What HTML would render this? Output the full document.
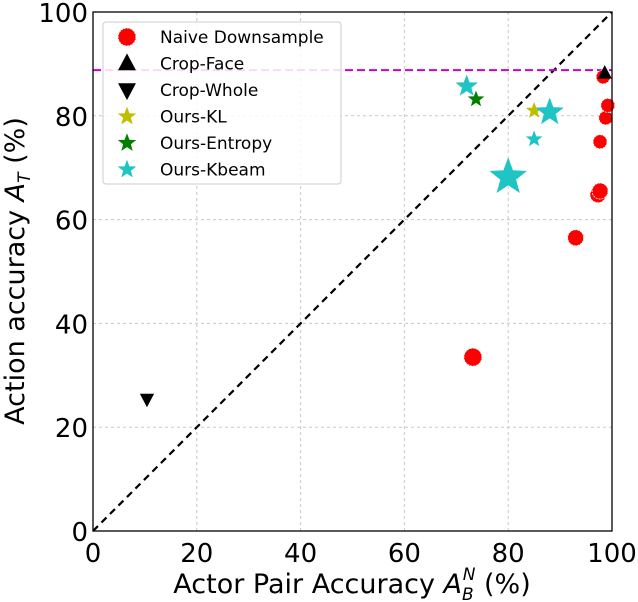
<!DOCTYPE html>
<html><head><meta charset="utf-8"><style>
body{margin:0;background:#fff}
svg{display:block;font-family:"DejaVu Sans","Liberation Sans",sans-serif}
</style></head><body>
<svg id="chart" width="638" height="602" viewBox="0 0 638 602"></svg>
<script>
const xTicks=[0,20,40,60,80,100];
const yTicks=[0,20,40,60,80,100];
const naiveX=[73.2,93,97.3,97.7,97.7,98.8,99.2,98.3];
const naiveY=[33.5,56.5,64.8,65.5,75,79.6,82,87.5];
const naiveR=[9,8,8,8,7,7,7,7];
const cropFaceX=[98.6], cropFaceY=[88.2];
const cropWholeX=[10.4], cropWholeY=[25.4];
const klX=[85], klY=[81], klS=[7];
const entX=[73.8], entY=[83.2], entS=[7];
const kbX=[72,88,85,80], kbY=[85.7,80.7,75.5,68.2], kbS=[10,13,7,18];
const refLine=88.8;
const L=93,R=612,T=12,B=531;
const sx=v=>L+(R-L)*v/100, sy=v=>B-(B-T)*v/100;
const svg=document.getElementById('chart');
const NS='http://www.w3.org/2000/svg';
function mk(tag,attrs,parent){const e=document.createElementNS(NS,tag);for(const k in attrs)e.setAttribute(k,attrs[k]);(parent||svg).appendChild(e);return e;}
xTicks.forEach(t=>{if(t>0&&t<100){const g=mk('line',{x1:sx(t),x2:sx(t),y1:T,y2:B,stroke:'#c8c8c8','stroke-dasharray':'3,3','stroke-width':1});

}});
yTicks.forEach(t=>{if(t>0&&t<100){const g=mk('line',{x1:L,x2:R,y1:sy(t),y2:sy(t),stroke:'#c8c8c8','stroke-dasharray':'3,3','stroke-width':1});

}});
const d=mk('line',{x1:sx(0),y1:sy(0),x2:sx(100),y2:sy(100),stroke:'#000','stroke-width':2.2,'stroke-dasharray':'7,5'});


const rl=mk('line',{x1:L,x2:R,y1:sy(refLine),y2:sy(refLine),stroke:'#cc00cc','stroke-width':2,'stroke-dasharray':'8,4'});


function star(cx,cy,r,fill,stroke){let p=[];for(let i=0;i<10;i++){const a=-Math.PI/2+i*Math.PI/5,rr=i%2?r*0.42:r;p.push((cx+rr*Math.cos(a)).toFixed(1)+','+(cy+rr*Math.sin(a)).toFixed(1));}
return mk('polygon',{points:p.join(' '),fill:fill,stroke:stroke,'stroke-width':1.2});}
function tri(cx,cy,r,up){const s=up?1:-1;return mk('polygon',{points:`${cx},${cy-s*r} ${cx-r*0.9},${cy+s*r*0.7} ${cx+r*0.9},${cy+s*r*0.7}`,fill:'#000',stroke:'#000'});}
naiveX.forEach((v,i)=>{const c=mk('circle',{cx:sx(v),cy:sy(naiveY[i]),r:naiveR[i],fill:'#ff0000',stroke:'#fff','stroke-width':0.8,'stroke-dasharray':'2,1'});

});
cropFaceX.forEach((v,i)=>{const e=tri(sx(v),sy(cropFaceY[i]),7,true);

});
cropWholeX.forEach((v,i)=>{const e=tri(sx(v),sy(cropWholeY[i]),7,false);

});
klX.forEach((v,i)=>{const e=star(sx(v),sy(klY[i]),klS[i],'#bfbf00','#bfbf00');

});
entX.forEach((v,i)=>{const e=star(sx(v),sy(entY[i]),entS[i],'#008000','#008000');

});
kbX.forEach((v,i)=>{const e=star(sx(v),sy(kbY[i]),kbS[i],'#1fc4c4','#1fc4c4');

});
const fr=mk('rect',{x:L,y:T,width:R-L,height:B-T,fill:'none',stroke:'#000','stroke-width':1.3});


xTicks.forEach(t=>{const e=mk('text',{x:sx(t),y:B+31,'font-size':26,'text-anchor':'middle'});e.textContent=t;

});
yTicks.forEach(t=>{const e=mk('text',{x:L-5,y:sy(t)+10,'font-size':26,'text-anchor':'end'});e.textContent=t;

});
const lg=mk('g',{});


mk('rect',{x:103,y:22,width:238,height:162,rx:3,fill:'#fff','fill-opacity':0.85,stroke:'#ccc'},lg);
const names=['Naive Downsample','Crop-Face','Crop-Whole','Ours-KL','Ours-Entropy','Ours-Kbeam'];
names.forEach((n,i)=>{const y=37+i*26.5;const t=mk('text',{x:160,y:y+6,'font-size':17},lg);t.textContent=n;

});
mk('circle',{cx:127,cy:37,r:9,fill:'#f00',stroke:'#fff','stroke-dasharray':'2,1'},lg);
lg.appendChild(tri(127,63.5,9,true));lg.appendChild(tri(127,90,9,false));
lg.appendChild(star(127,116.5,8,'#bfbf00','#bfbf00'));
lg.appendChild(star(127,143,8,'#008000','#008000'));
lg.appendChild(star(127,169.5,8,'#1fc4c4','#1fc4c4'));
</script>
<svg style="position:absolute;left:0;top:0" width="638" height="602">
<text x="352" y="593" font-size="27" text-anchor="middle" font-family="DejaVu Sans,sans-serif">Actor Pair Accuracy <tspan font-style="italic">A</tspan><tspan font-size="17" font-style="italic" dy="7">B</tspan><tspan font-size="17" font-style="italic" dx="-11" dy="-20">N</tspan><tspan dy="13"> (%)</tspan></text>
<text transform="translate(24,271) rotate(-90)" font-size="27" text-anchor="middle" font-family="DejaVu Sans,sans-serif">Action accuracy <tspan font-style="italic">A</tspan><tspan font-size="17" font-style="italic" dy="6">T</tspan><tspan dy="-6"> (%)</tspan></text>
</svg>
</body></html>
